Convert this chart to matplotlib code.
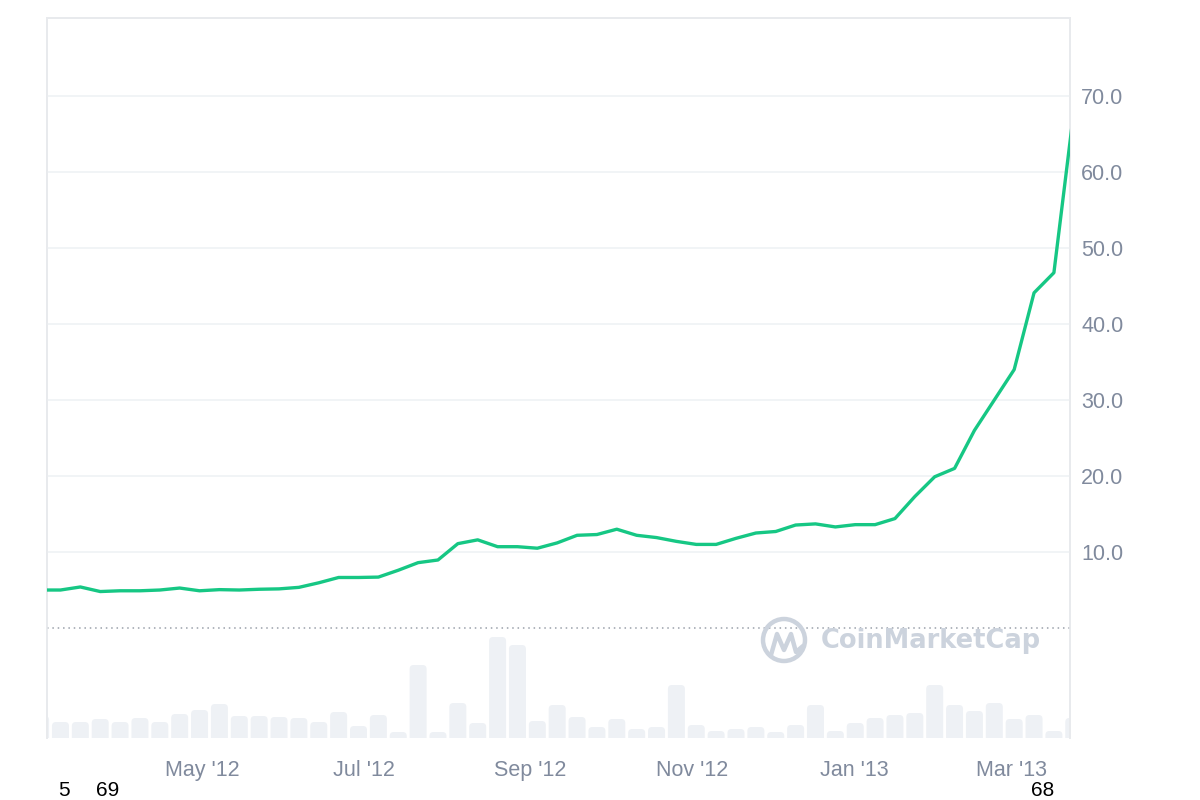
import matplotlib
matplotlib.use('Agg')
import matplotlib.pyplot as plt
from matplotlib.patches import Circle, FancyBboxPatch

plt.rcParams['font.family'] = ['Liberation Sans', 'DejaVu Sans']

# ---- data (weekly points) ----
prices = [5.0, 5.0, 5.4, 4.8, 4.9, 4.9, 5.0, 5.26, 4.9, 5.05,
          5.0, 5.1, 5.15, 5.35, 5.95, 6.65, 6.65, 6.7, 7.6, 8.6,
          8.95, 11.1, 11.6, 10.7, 10.7, 10.5, 11.2, 12.2, 12.3, 13.0,
          12.2, 11.9, 11.4, 11.0, 11.0, 11.8, 12.5, 12.7, 13.55, 13.7,
          13.3, 13.6, 13.6, 14.4, 17.3, 19.9, 21.0, 26.0, 30.0, 34.0,
          44.1, 46.75, 68.0]
volumes = [22, 16, 16, 19, 16, 20, 16, 24, 28, 34,
           22, 22, 21, 20, 16, 26, 12, 23, 6, 73,
           6, 35, 15, 101, 93, 17, 33, 21, 11, 19,
           9, 11, 53, 13, 7, 9, 11, 6, 13, 33,
           7, 15, 20, 23, 25, 53, 33, 27, 35, 19,
           23, 7, 20]
x_index = list(range(len(prices)))
date_tick_pos = [8.12, 16.27, 24.62, 32.81, 40.96, 48.86]
date_tick_labels = ["May '12", "Jul '12", "Sep '12", "Nov '12", "Jan '13", "Mar '13"]
price_ticks = [10, 20, 30, 40, 50, 60, 70]
bottom_labels = ["5", "69", "68"]

GREEN = '#16C784'
GRID = '#EFF2F5'
LABEL = '#808A9D'
BAR = '#EEF1F5'

fig = plt.figure(figsize=(12, 8), dpi=100)
ax_v = fig.add_axes([47/1200, 62/800, 1023/1200, 720/800])
ax_v.set_ylim(0, 720)
ax_v.set_xlim(0.322, 51.81)
bar_w = 0.855
# px per x unit ~ 19.88, px per y unit = 1  -> aspect for round corners
aspect = 19.88
for xi, v in zip(x_index, volumes):
    patch = FancyBboxPatch((xi - bar_w / 2, -10), bar_w, v + 10,
                           boxstyle="round,pad=0,rounding_size=0.2",
                           mutation_aspect=aspect, fc=BAR, ec='none', zorder=1)
    ax_v.add_patch(patch)
ax_v.set_yticks([])
ax_v.set_xticks(date_tick_pos)
ax_v.set_xticklabels(date_tick_labels)
ax_v.tick_params(axis='x', length=0, pad=16, labelsize=15.5, labelcolor=LABEL)

ax_p = ax_v.twinx()
ax_p.set_ylim(-14.47, 80.26)
ax_p.set_yticks(price_ticks)
ax_p.set_yticklabels([f"{v:.1f}" for v in price_ticks])
ax_p.tick_params(axis='y', length=0, pad=8, labelsize=15.5, labelcolor=LABEL)
ax_p.grid(axis='y', color=GRID, lw=1.2, zorder=0)
ax_p.axhline(0, color='#9AA0AA', lw=1.1, ls=(0, (1, 2.5)), zorder=1)
ax_p.plot(x_index, prices, color=GREEN, lw=2.4, zorder=3)

for a in (ax_v, ax_p):
    for s in ('left', 'top', 'right'):
        a.spines[s].set_color('#E8EAED')
        a.spines[s].set_linewidth(1.2)
    a.spines['bottom'].set_visible(False)

# watermark
ov = fig.add_axes([0, 0, 1, 1], zorder=1)
ov.set_xlim(0, 1200)
ov.set_ylim(800, 0)
ov.axis('off')
ov.patch.set_alpha(0)
WM = '#CCD3DD'
ov.add_patch(Circle((784, 640), 21, fill=False, ec=WM, lw=3.2))
ov.plot([771, 777, 784, 791, 796, 803], [655, 634, 650, 634, 652, 646],
        color=WM, lw=3.2, solid_capstyle='round', solid_joinstyle='round')
ov.text(821, 641, 'CoinMarketCap', ha='left', va='center',
        fontsize=18.5, fontweight='bold', color=WM, family='DejaVu Sans')

for lab, px in zip(bottom_labels, [64, 108, 1043]):
    fig.text(px/1200, 1 - 790/800, lab, ha='center', va='center',
             fontsize=15, color='black')

fig.savefig('out.png', dpi=100)
